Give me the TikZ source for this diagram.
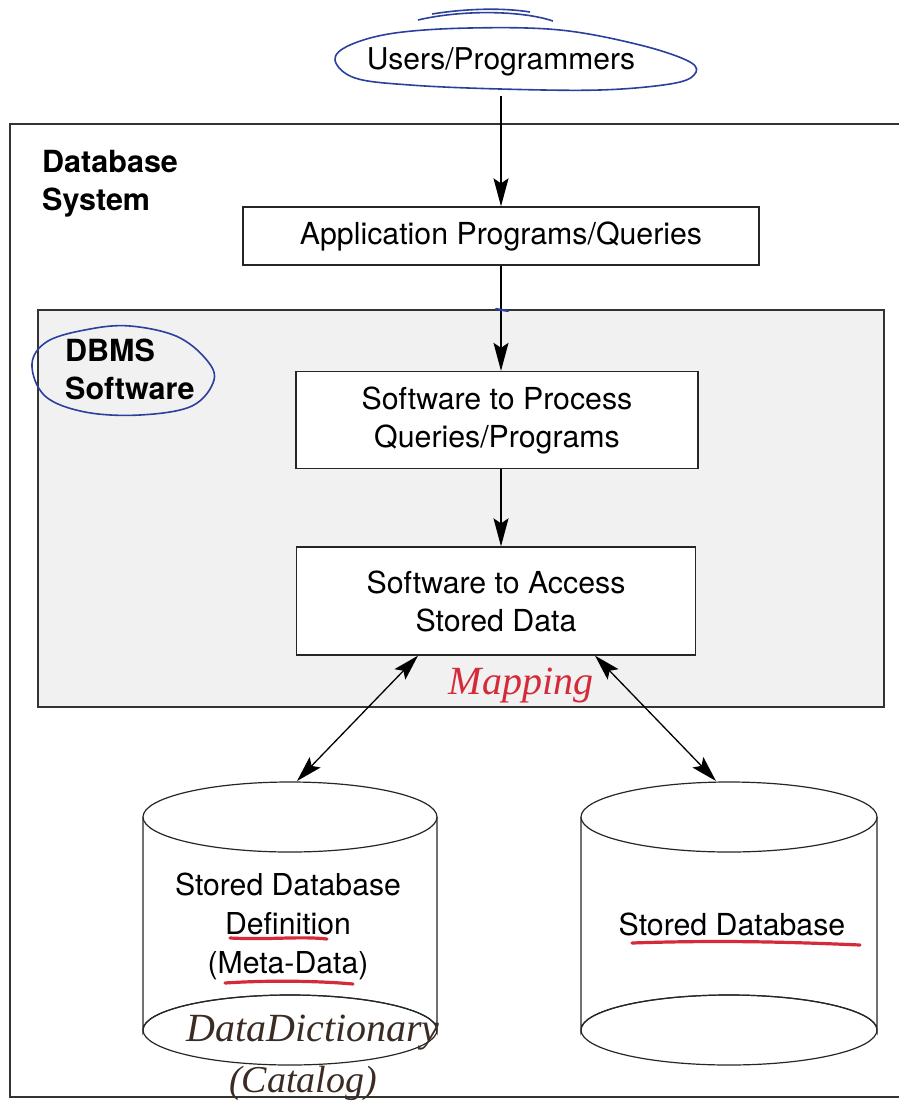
\documentclass[tikz,border=0pt]{standalone}
\usepackage{fontspec}
\setmainfont{TeX Gyre Heros}
\newfontfamily\handfont{Liberation Serif}
\usetikzlibrary{arrows.meta}
\definecolor{penblue}{HTML}{2B3F9C}
\definecolor{penred}{HTML}{D42A3A}
\definecolor{penink}{HTML}{3A2C24}
\definecolor{dbmsgray}{HTML}{F1F1F1}
\tikzset{
  boxstyle/.style={draw=black!85, line width=1.3pt, fill=white, align=center, inner sep=0pt,
    font=\fontsize{30.3}{38}\selectfont},
  flow/.style={line width=1.3pt, -{Stealth[length=28pt,width=15pt,inset=5pt]}},
  dflow/.style={line width=1.3pt, {Stealth[length=26pt,width=15pt,inset=5pt]}-{Stealth[length=26pt,width=15pt,inset=5pt]}},
  frame/.style={draw=black!80, line width=1.3pt},
  penloop/.style={draw=penblue, line width=1.6pt},
  redline/.style={draw=penred, line width=3.2pt, line cap=round},
  hand/.style={font=\handfont\itshape\fontsize{40}{40}\selectfont, inner sep=0pt},
  cyl/.style={draw=black!85, line width=1.2pt, fill=white},
  bold/.style={font=\bfseries\fontsize{30.5}{38}\selectfont, align=left, inner sep=0pt, anchor=north west}
}
\begin{document}
\begin{tikzpicture}[x=1pt,y=-1pt]
\useasboundingbox (0,0) rectangle (899,1111);
% outer frame (right side runs off the page)
\path[frame] (899,124) -- (10,124) -- (10,1097) -- (899,1097);
\node[bold] (dbsys) at (42,150) {Database\\System};
% DBMS area
\path[frame, fill=dbmsgray] (38,310) rectangle (884,707);
\node[bold] (dbmssw) at (65,339) {DBMS\\Software};
% users
\node[font=\fontsize{30}{34}\selectfont, minimum height=68pt, inner sep=0pt] (users) at (501,62) {Users/Programmers};
% boxes
\node[boxstyle, minimum width=516pt, minimum height=58pt] (app) at (501,236) {Application Programs/Queries};
\node[boxstyle, minimum width=402pt, minimum height=97pt] (proc) at (497,420) {Software to Process\\Queries/Programs};
\node[boxstyle, minimum width=399pt, minimum height=108pt] (access) at (496,601) {Software to Access\\Stored Data};
% cylinders
\path[cyl] (143,817) -- (143,1030) arc[start angle=180,end angle=360,x radius=147,y radius=35] -- (437,817);
\draw[black!85, line width=1.2pt] (290,1030) ellipse[x radius=147,y radius=35];
\draw[black!85, line width=1.2pt, fill=white] (290,817) ellipse[x radius=147,y radius=35];
\path[cyl] (581,817) -- (581,1030) arc[start angle=180,end angle=360,x radius=148,y radius=35] -- (877,817);
\draw[black!85, line width=1.2pt] (729,1030) ellipse[x radius=148,y radius=35];
\draw[black!85, line width=1.2pt, fill=white] (729,817) ellipse[x radius=148,y radius=35];
\node[align=center, inner sep=0pt, font=\fontsize{30.2}{39}\selectfont] (meta) at (288,926) {Stored Database\\Definition\\(Meta-Data)};
\node[inner sep=0pt, font=\fontsize{30.3}{39}\selectfont] (stored) at (732,924) {Stored Database};
\coordinate (cylL) at (297,781);
\coordinate (cylR) at (716,781);
% connectors
\draw[flow] (users.south) -- (users.south |- app.north);
\draw[flow] (app.south) -- (app.south |- proc.north);
\draw[flow] (proc.south -| app.south) -- (access.north -| app.south);
\draw[dflow] ([xshift=-78pt]access.south) -- (cylL);
\draw[dflow] ([xshift=99pt]access.south) -- (cylR);
% pen annotations
\draw[penloop] plot[smooth cycle, tension=0.6] coordinates {(335,60) (350,45) (395,33) (470,28) (560,30) (640,45) (690,62) (694,75) (670,84) (600,90) (500,89) (410,85) (355,78)};
\draw[penloop] (418,20) .. controls (460,10) and (520,10) .. (553,21);
\draw[penloop] (432,14) .. controls (470,8) and (505,8) .. (530,12);
\draw[penloop] plot[smooth cycle, tension=0.6] coordinates {(32,364) (48,341) (90,329) (130,326) (176,336) (205,358) (214,380) (192,406) (140,415) (85,412) (45,396)};
\draw[penblue, line width=2.2pt, line cap=round] (496,309) -- (508,311);
\draw[redline] (230,938) .. controls (270,940) and (300,936) .. (327,939);
\draw[redline] (225,983) .. controls (270,980) and (320,981) .. (353,984);
\draw[redline] (632,943) .. controls (720,940) and (790,942) .. (860,945);
\node[hand, text=penred] (mapping) at (521,686) {Mapping};
\node[hand, text=penink] (dd) at (313,1033) {DataDictionary};
\node[hand, text=penink, font=\handfont\itshape\fontsize{38}{38}\selectfont] (cat) at (303,1083) {(Catalog)};
\end{tikzpicture}
\end{document}
